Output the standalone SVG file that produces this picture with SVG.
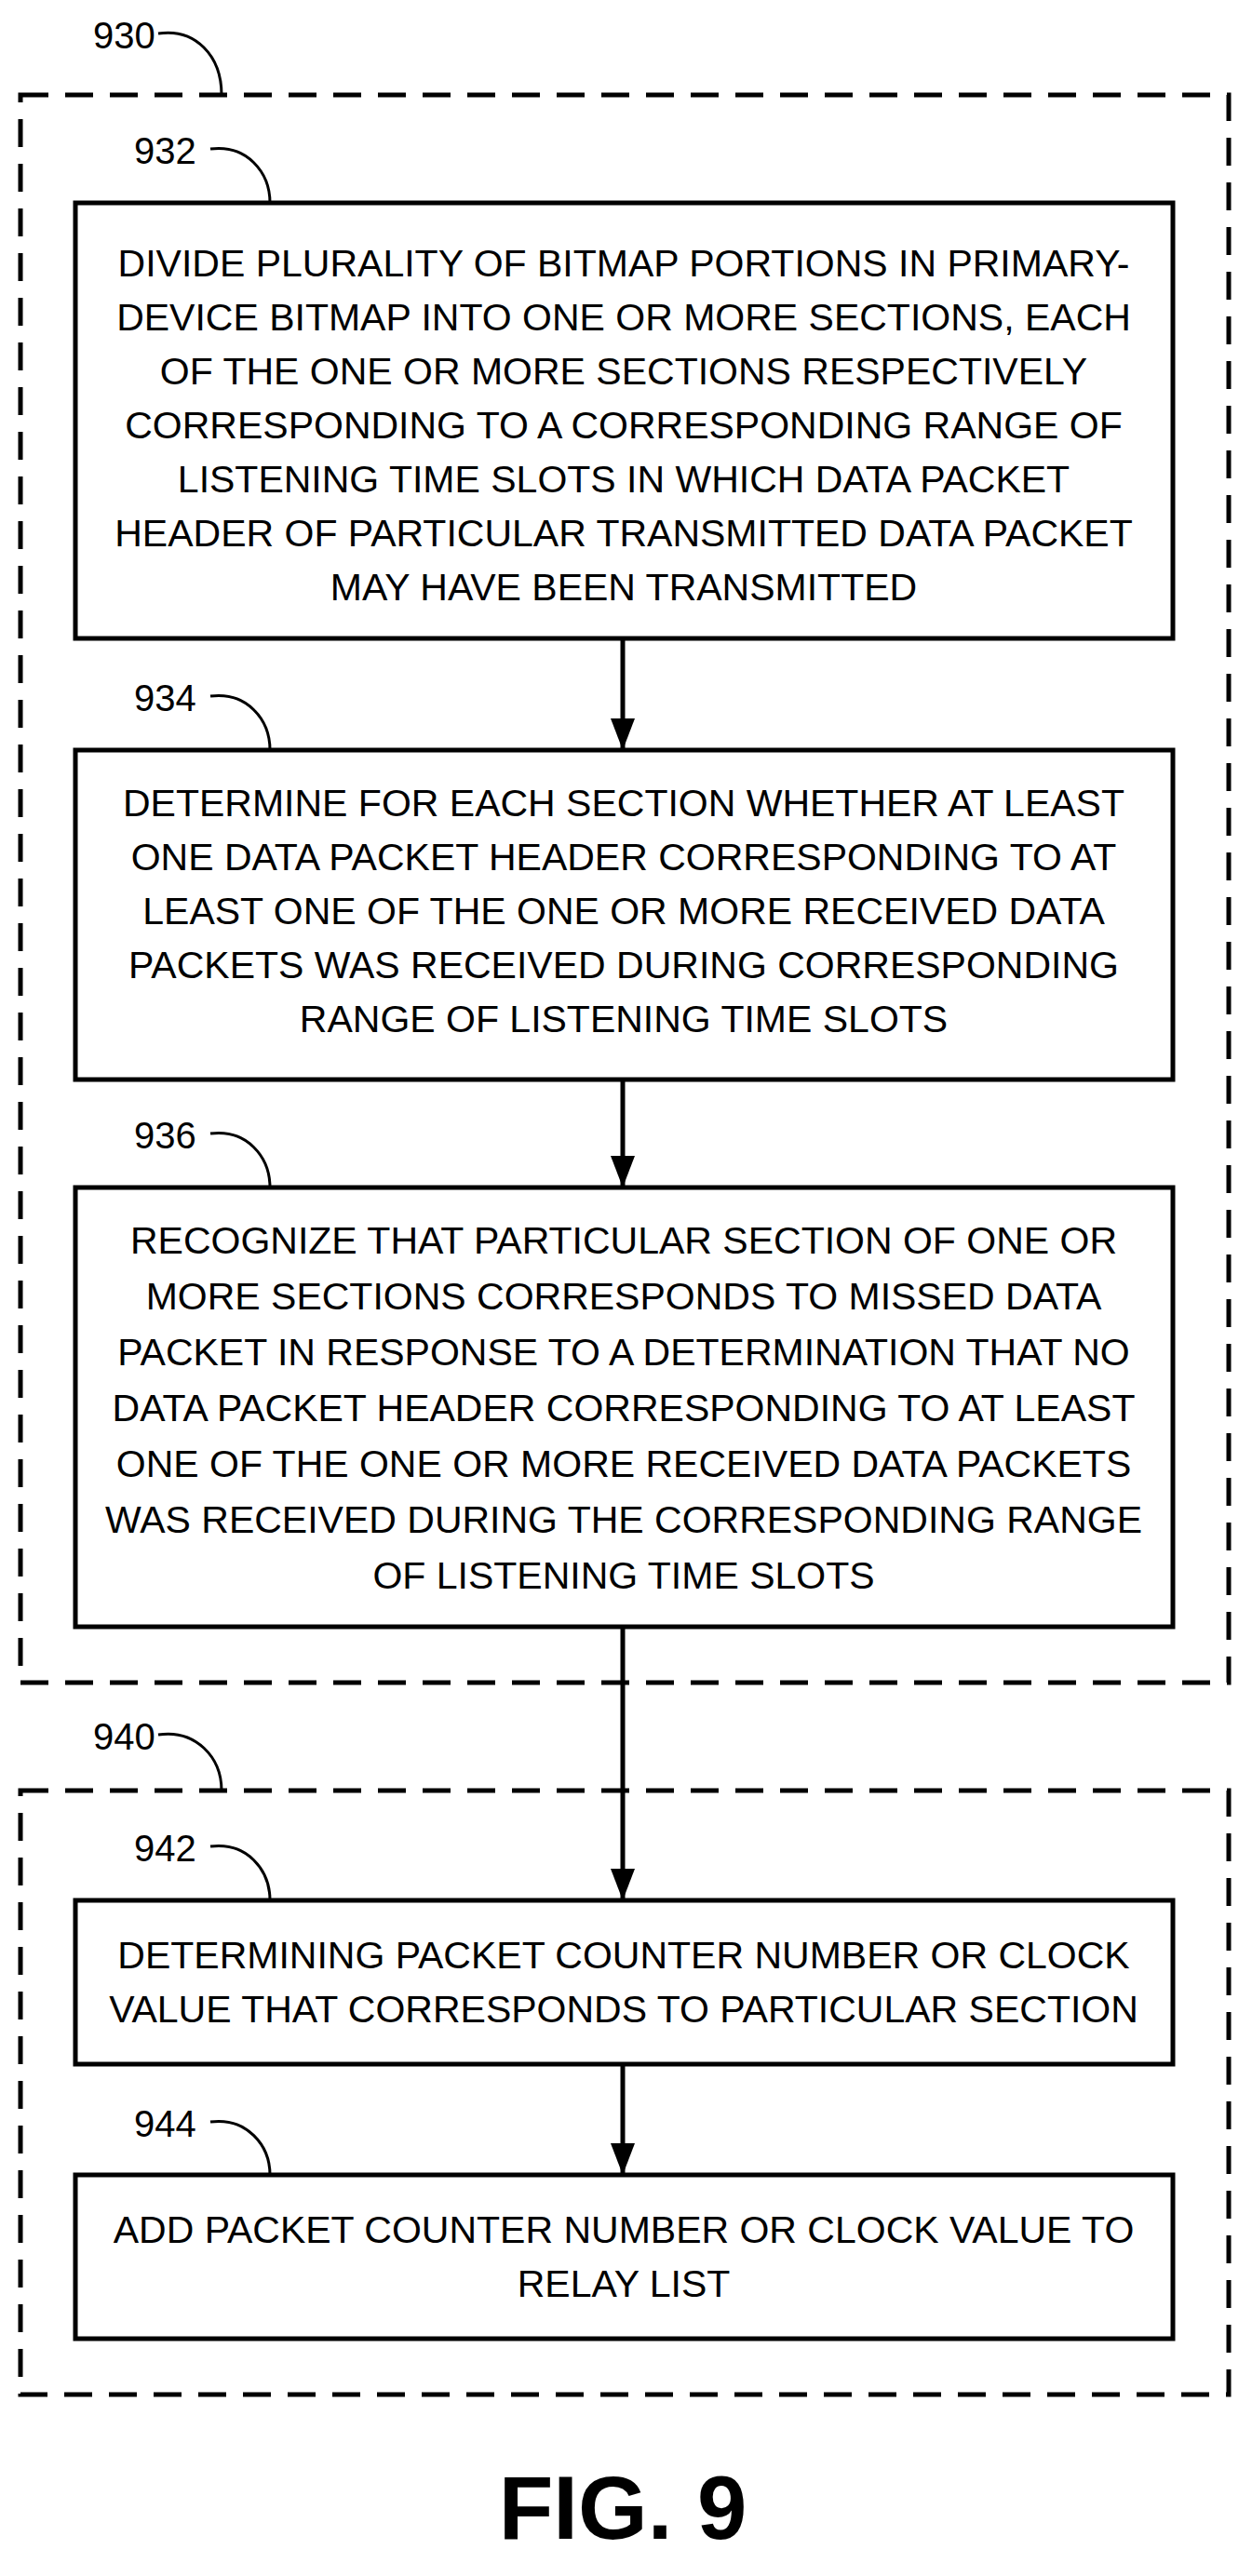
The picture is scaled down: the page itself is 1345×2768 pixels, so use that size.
<svg xmlns="http://www.w3.org/2000/svg" width="1345" height="2768" viewBox="0 0 1345 2768">
<style>
.t{font-family:"Liberation Sans Narrow","Liberation Sans",Arial,sans-serif;font-size:41px;text-anchor:middle;fill:#000}
.l{font-family:"Liberation Sans Narrow","Liberation Sans",Arial,sans-serif;font-size:40px;fill:#000}
.b{fill:#fff;stroke:#000;stroke-width:5}
.d{fill:none;stroke:#000;stroke-width:5;stroke-dasharray:30 18}
.c{fill:none;stroke:#000;stroke-width:3}
</style>
<defs><marker id="ar" markerWidth="34" markerHeight="26" refX="34" refY="13" orient="auto" markerUnits="userSpaceOnUse" viewBox="0 0 34 26"><path d="M0,0 L34,13 L0,26 z"/></marker></defs>
<g id="g930"><rect class="d" x="22" y="102" width="1298" height="1706"/>
<text class="l" x="100" y="52">930</text><path class="c" d="M170,36 C210,30 238,60 238,102"/></g>
<g id="g940"><rect class="d" x="22" y="1924" width="1298" height="649"/>
<text class="l" x="100" y="1880">940</text><path class="c" d="M170,1864 C210,1858 238,1888 238,1924"/></g>
<g id="connectors">
<line x1="669" y1="686" x2="669" y2="806" stroke="#000" stroke-width="5" marker-end="url(#ar)"/>
<line x1="669" y1="1160" x2="669" y2="1276" stroke="#000" stroke-width="5" marker-end="url(#ar)"/>
<line x1="669" y1="1748" x2="669" y2="2042" stroke="#000" stroke-width="5" marker-end="url(#ar)"/>
<line x1="669" y1="2218" x2="669" y2="2337" stroke="#000" stroke-width="5" marker-end="url(#ar)"/>
</g>
<g id="n932"><text class="l" x="144" y="176">932</text><path class="c" d="M226,160 C265,155 290,185 290,218"/>
<rect class="b" x="81" y="218" width="1179" height="468"/>
<text class="t"><tspan x="670" y="297">DIVIDE PLURALITY OF BITMAP PORTIONS IN PRIMARY-</tspan><tspan x="670" y="355">DEVICE BITMAP INTO ONE OR MORE SECTIONS, EACH</tspan><tspan x="670" y="413">OF THE ONE OR MORE SECTIONS RESPECTIVELY</tspan><tspan x="670" y="471">CORRESPONDING TO A CORRESPONDING RANGE OF</tspan><tspan x="670" y="529">LISTENING TIME SLOTS IN WHICH DATA PACKET</tspan><tspan x="670" y="587">HEADER OF PARTICULAR TRANSMITTED DATA PACKET</tspan><tspan x="670" y="645">MAY HAVE BEEN TRANSMITTED</tspan></text></g>
<g id="n934"><text class="l" x="144" y="764">934</text><path class="c" d="M226,748 C265,743 290,773 290,806"/>
<rect class="b" x="81" y="806" width="1179" height="354"/>
<text class="t"><tspan x="670" y="877">DETERMINE FOR EACH SECTION WHETHER AT LEAST</tspan><tspan x="670" y="935">ONE DATA PACKET HEADER CORRESPONDING TO AT</tspan><tspan x="670" y="993">LEAST ONE OF THE ONE OR MORE RECEIVED DATA</tspan><tspan x="670" y="1051">PACKETS WAS RECEIVED DURING CORRESPONDING</tspan><tspan x="670" y="1109">RANGE OF LISTENING TIME SLOTS</tspan></text></g>
<g id="n936"><text class="l" x="144" y="1234">936</text><path class="c" d="M226,1218 C265,1213 290,1243 290,1276"/>
<rect class="b" x="81" y="1276" width="1179" height="472"/>
<text class="t"><tspan x="670" y="1347">RECOGNIZE THAT PARTICULAR SECTION OF ONE OR</tspan><tspan x="670" y="1407">MORE SECTIONS CORRESPONDS TO MISSED DATA</tspan><tspan x="670" y="1467">PACKET IN RESPONSE TO A DETERMINATION THAT NO</tspan><tspan x="670" y="1527">DATA PACKET HEADER CORRESPONDING TO AT LEAST</tspan><tspan x="670" y="1587">ONE OF THE ONE OR MORE RECEIVED DATA PACKETS</tspan><tspan x="670" y="1647">WAS RECEIVED DURING THE CORRESPONDING RANGE</tspan><tspan x="670" y="1707">OF LISTENING TIME SLOTS</tspan></text></g>
<g id="n942"><text class="l" x="144" y="2000">942</text><path class="c" d="M226,1984 C265,1979 290,2009 290,2042"/>
<rect class="b" x="81" y="2042" width="1179" height="176"/>
<text class="t"><tspan x="670" y="2115">DETERMINING PACKET COUNTER NUMBER OR CLOCK</tspan><tspan x="670" y="2173">VALUE THAT CORRESPONDS TO PARTICULAR SECTION</tspan></text></g>
<g id="n944"><text class="l" x="144" y="2296">944</text><path class="c" d="M226,2280 C265,2275 290,2305 290,2337"/>
<rect class="b" x="81" y="2337" width="1179" height="176"/>
<text class="t"><tspan x="670" y="2410">ADD PACKET COUNTER NUMBER OR CLOCK VALUE TO</tspan><tspan x="670" y="2468">RELAY LIST</tspan></text></g>
<text x="669" y="2728" style="font-family:'Liberation Sans',Arial,sans-serif;font-weight:bold;font-size:96px;text-anchor:middle">FIG. 9</text>
</svg>
